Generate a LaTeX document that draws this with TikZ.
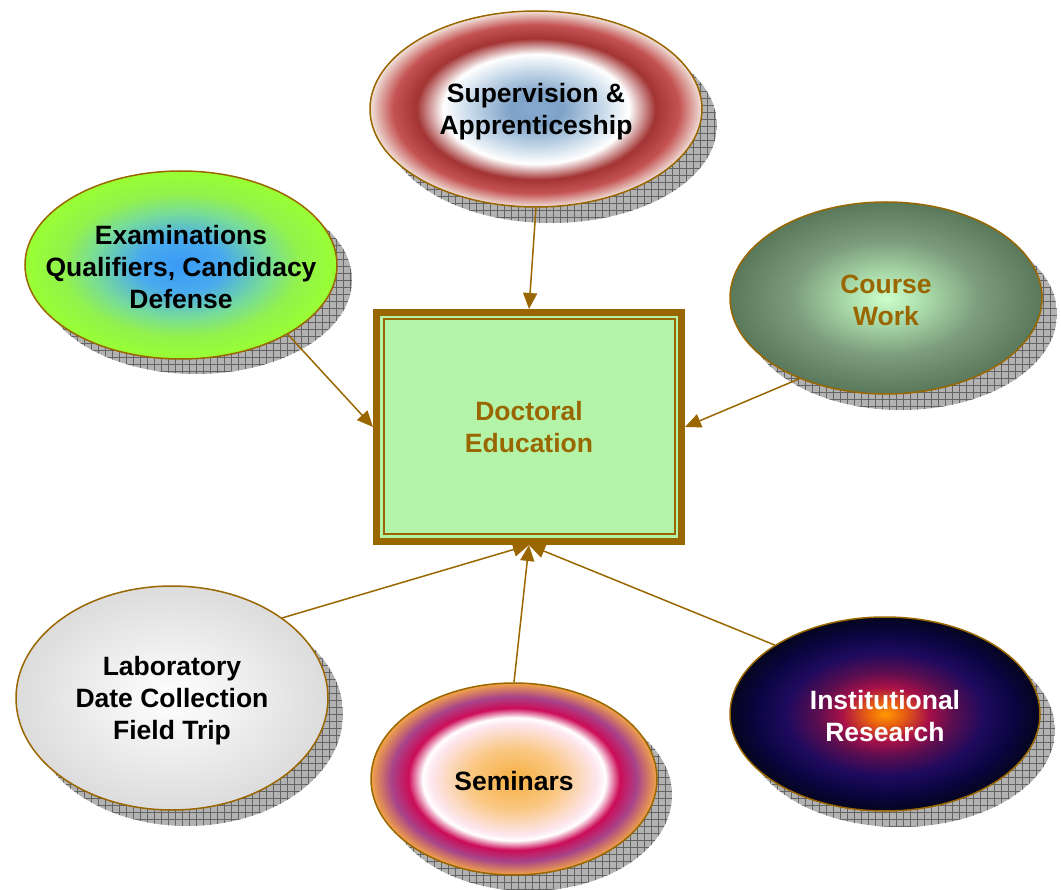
\documentclass[tikz,border=0pt]{standalone}
\usepackage{fontspec}
\newfontfamily\lab{Liberation Sans}
\usetikzlibrary{shapes.geometric,arrows.meta,calc}
\definecolor{brn}{HTML}{996600}
\definecolor{boxg}{HTML}{B3F4A9}
\definecolor{shgray}{HTML}{B2B2B2}
\definecolor{gridc}{HTML}{646464}
% supervision
\definecolor{sa}{HTML}{86AAD0}\definecolor{sb}{HTML}{7FA3C8}\definecolor{sc}{HTML}{C8DAEA}
\definecolor{sd}{HTML}{A33434}\definecolor{se}{HTML}{C45252}\definecolor{sf}{HTML}{F0E2DA}
\pgfdeclareradialshading{supS}{\pgfpointorigin}{color(0bp)=(sa); color(4bp)=(sb); color(10bp)=(sc); color(14bp)=(white); color(18bp)=(sd); color(21.5bp)=(se); color(25bp)=(sf); color(50bp)=(sf)}
% examinations
\definecolor{ea}{HTML}{3A9AF8}\definecolor{eb}{HTML}{48AAEE}\definecolor{ec}{HTML}{78DC98}\definecolor{ed}{HTML}{92F24C}\definecolor{ee}{HTML}{99FF33}
\pgfdeclareradialshading{examS}{\pgfpointorigin}{color(0bp)=(ea); color(7bp)=(eb); color(14bp)=(ec); color(19bp)=(ed); color(25bp)=(ee); color(50bp)=(ee)}
% course work
\definecolor{ca}{HTML}{CCFFCC}\definecolor{cb}{HTML}{A6D6A6}\definecolor{cc}{HTML}{7C9C7C}\definecolor{cd}{HTML}{5A785A}
\pgfdeclareradialshading{cwS}{\pgfpointorigin}{color(0bp)=(ca); color(7bp)=(cb); color(15bp)=(cc); color(25bp)=(cd); color(50bp)=(cd)}
% laboratory
\definecolor{la}{HTML}{DCDCDC}
\pgfdeclareradialshading{labS}{\pgfpointorigin}{color(0bp)=(white); color(25bp)=(la); color(50bp)=(la)}
% seminars
\definecolor{ma}{HTML}{F6AE40}\definecolor{mb}{HTML}{FAC884}\definecolor{mc}{HTML}{FDE6EE}
\definecolor{md}{HTML}{CC0C58}\definecolor{me}{HTML}{A8448A}\definecolor{mf}{HTML}{F2A448}
\pgfdeclareradialshading{semS}{\pgfpointorigin}{color(0bp)=(ma); color(8bp)=(mb); color(14.5bp)=(mc); color(16bp)=(white); color(18.5bp)=(md); color(21.5bp)=(me); color(25bp)=(mf); color(50bp)=(mf)}
% institutional
\definecolor{ia}{HTML}{FF9A00}\definecolor{ib}{HTML}{E86010}\definecolor{ic}{HTML}{A81048}\definecolor{id}{HTML}{5A0E50}
\definecolor{ie}{HTML}{1E0A5E}\definecolor{if}{HTML}{0A0540}\definecolor{ig}{HTML}{05051E}
\pgfdeclareradialshading{instS}{\pgfpointorigin}{color(0bp)=(ia); color(3bp)=(ib); color(7bp)=(ic); color(11bp)=(id); color(16bp)=(ie); color(21bp)=(if); color(25bp)=(ig); color(50bp)=(ig)}
\newcommand\dropshade[4]{%
  \begin{scope}
    \clip ({#1+15},{#2+16}) ellipse [x radius=#3pt, y radius=#4pt];
    \fill[shgray] ({#1+15-#3},{#2+16-#4}) rectangle ({#1+15+#3},{#2+16+#4});
    \draw[gridc, line width=0.5pt] ({#1+15-#3},{#2+16-#4}) grid[step=7pt] ({#1+15+#3},{#2+16+#4});
  \end{scope}}
\tikzset{
  txt/.style={font=\lab\bfseries\fontsize{26.5}{32}\selectfont, align=center, inner sep=0pt},
  ltxt/.style={txt, yshift=-2.5pt},
  ell/.style={ellipse, shade, draw=brn, line width=1.5pt, inner sep=0pt},
  conn/.style={draw=brn, line width=1.5pt, -{Triangle[length=16pt,width=14pt]}},
}
\begin{document}
\begin{tikzpicture}[x=1pt,y=-1pt]
\useasboundingbox (0,0) rectangle (1061,890);
% shadows
\dropshade{536}{109}{166}{98}
\dropshade{181}{264}{156}{94}
\dropshade{886}{298}{156}{96}
\dropshade{172}{698}{156}{112}
\dropshade{514}{779}{143}{96}
\dropshade{885}{714}{155}{97}
% ellipses
\node[ell, shading=supS, minimum width=332pt, minimum height=196pt,
  label={[ltxt]center:{Supervision \&\\Apprenticeship}}] (sup) at (536,109) {};
\node[ell, shading=examS, minimum width=312pt, minimum height=188pt,
  label={[ltxt]center:{Examinations\\Qualifiers, Candidacy\\Defense}}] (exam) at (181,265) {};
\node[ell, shading=cwS, minimum width=312pt, minimum height=192pt,
  label={[ltxt, text=brn]center:{Course\\Work}}] (cw) at (886,298) {};
\node[ell, shading=labS, minimum width=312pt, minimum height=224pt,
  label={[ltxt]center:{Laboratory\\Date Collection\\Field Trip}}] (lab) at (172,698) {};
\node[ell, shading=semS, minimum width=286pt, minimum height=192pt,
  label={[ltxt]center:{Seminars}}] (sem) at (514,779) {};
\node[ell, shading=instS, minimum width=310pt, minimum height=194pt,
  label={[ltxt, text=white]center:{Institutional\\Research}}] (inst) at (885,714) {};
% central box
\node[draw=brn, line width=7pt, fill=boxg, minimum width=305pt, minimum height=229pt, text=brn,
  txt] (box) at (529,427) {Doctoral\\Education};
\draw[brn, line width=2pt] ($(box.north west)+(10.5,10.5)$) rectangle ($(box.south east)+(-10.5,-10.5)$);
% connectors
\draw[conn] (sup.south) -- (box.north);
\draw[conn] (exam.-33) -- (box.west);
\draw[conn] (cw.-137) -- (box.east);
\draw[conn] (lab.36) -- (box.south);
\draw[conn] (sem.north) -- (box.south);
\draw[conn] (inst.148) -- (box.south);
\end{tikzpicture}
\end{document}
